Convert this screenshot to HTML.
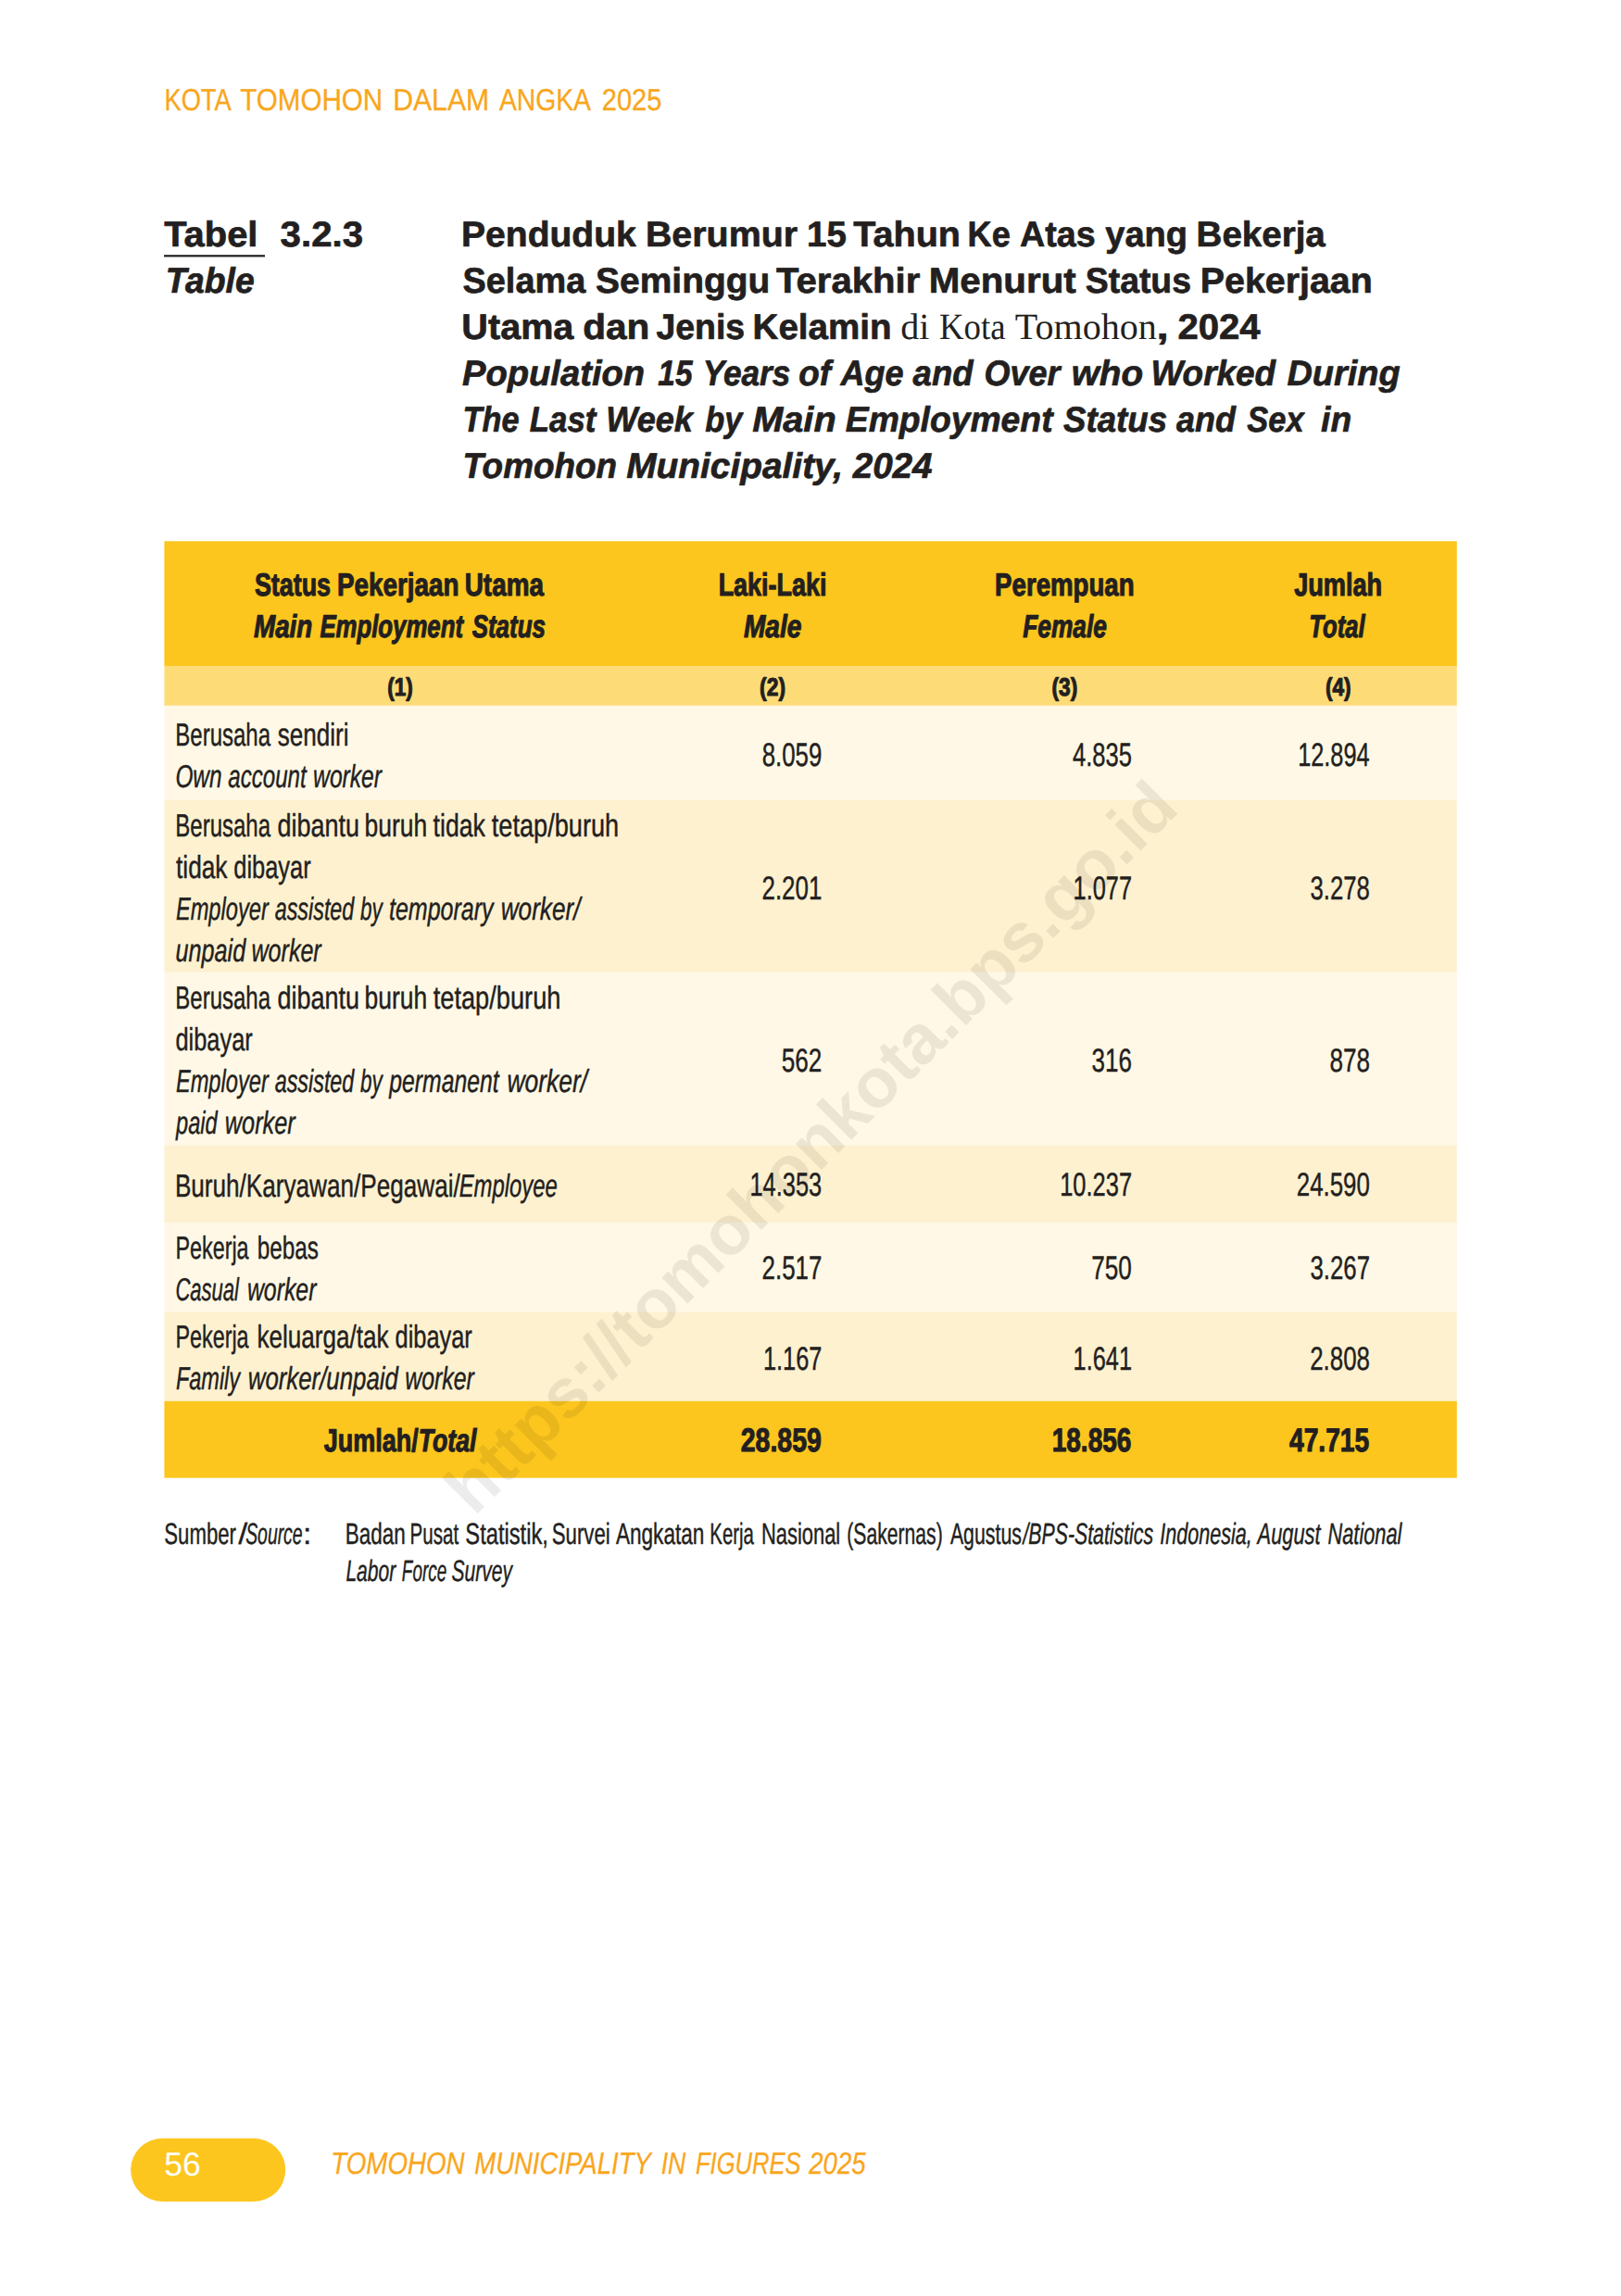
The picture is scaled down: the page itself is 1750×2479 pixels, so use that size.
<!DOCTYPE html>
<html lang="id">
<head>
<meta charset="utf-8">
<title>Kota Tomohon Dalam Angka 2025 - Tabel 3.2.3</title>
<style>
html,body{margin:0;padding:0;background:#fff;}
body{width:1750px;height:2479px;overflow:hidden;position:relative;}
svg{position:absolute;left:0;top:0;display:block;}
text{font-family:"Liberation Sans",Arial,sans-serif;white-space:pre;text-rendering:geometricPrecision;}
</style>
</head>
<body>
<svg width="1750" height="2479" viewBox="0 0 1750 2479">

<rect x="177.4" y="584.3" width="1395.4" height="134.7" fill="#fcc61e"/>
<rect x="177.4" y="719.0" width="1395.4" height="42.9" fill="#fddc78"/>
<rect x="177.4" y="761.9" width="1395.4" height="101.9" fill="#fff8e6"/>
<rect x="177.4" y="863.8" width="1395.4" height="186.0" fill="#fef1d0"/>
<rect x="177.4" y="1049.8" width="1395.4" height="187.1" fill="#fff8e6"/>
<rect x="177.4" y="1236.9" width="1395.4" height="83.2" fill="#fef1d0"/>
<rect x="177.4" y="1320.1" width="1395.4" height="96.4" fill="#fff8e6"/>
<rect x="177.4" y="1416.5" width="1395.4" height="96.3" fill="#fef1d0"/>
<rect x="177.4" y="1512.8" width="1395.4" height="82.9" fill="#fcc61e"/>
<rect x="177" y="275.2" width="109" height="2.2" fill="#231f20"/>
<rect x="141.1" y="2308.8" width="167.1" height="68.1" rx="34.05" ry="34.05" fill="#fcc61e"/>

<text x="177.47" y="118.80" font-size="33.00" textLength="72.23" lengthAdjust="spacingAndGlyphs" fill="#f9a61c" stroke="#f9a61c" stroke-width="0.3" stroke-linejoin="round">KOTA</text>
<text x="259.29" y="118.80" font-size="33.00" textLength="153.97" lengthAdjust="spacingAndGlyphs" fill="#f9a61c" stroke="#f9a61c" stroke-width="0.3" stroke-linejoin="round">TOMOHON</text>
<text x="424.17" y="118.80" font-size="33.00" textLength="104.05" lengthAdjust="spacingAndGlyphs" fill="#f9a61c" stroke="#f9a61c" stroke-width="0.3" stroke-linejoin="round">DALAM</text>
<text x="538.89" y="118.80" font-size="33.00" textLength="99.11" lengthAdjust="spacingAndGlyphs" fill="#f9a61c" stroke="#f9a61c" stroke-width="0.3" stroke-linejoin="round">ANGKA</text>
<text x="649.79" y="118.80" font-size="33.00" textLength="64.58" lengthAdjust="spacingAndGlyphs" fill="#f9a61c" stroke="#f9a61c" stroke-width="0.3" stroke-linejoin="round">2025</text>
<text x="177.18" y="2349.20" font-size="35.90" textLength="39.48" lengthAdjust="spacingAndGlyphs" fill="#ffffff">56</text>
<text x="357.27" y="2346.90" font-size="33.10" textLength="144.37" lengthAdjust="spacingAndGlyphs" fill="#f9a61c" stroke="#f9a61c" stroke-width="0.3" stroke-linejoin="round" font-style="italic">TOMOHON</text>
<text x="512.21" y="2346.90" font-size="33.10" textLength="190.60" lengthAdjust="spacingAndGlyphs" fill="#f9a61c" stroke="#f9a61c" stroke-width="0.3" stroke-linejoin="round" font-style="italic">MUNICIPALITY</text>
<text x="713.70" y="2346.90" font-size="33.10" textLength="26.64" lengthAdjust="spacingAndGlyphs" fill="#f9a61c" stroke="#f9a61c" stroke-width="0.3" stroke-linejoin="round" font-style="italic">IN</text>
<text x="750.96" y="2346.90" font-size="33.10" textLength="113.66" lengthAdjust="spacingAndGlyphs" fill="#f9a61c" stroke="#f9a61c" stroke-width="0.3" stroke-linejoin="round" font-style="italic">FIGURES</text>
<text x="873.31" y="2346.90" font-size="33.10" textLength="61.27" lengthAdjust="spacingAndGlyphs" fill="#f9a61c" stroke="#f9a61c" stroke-width="0.3" stroke-linejoin="round" font-style="italic">2025</text>
<text x="177.21" y="266.40" font-size="38.40" textLength="101.18" lengthAdjust="spacingAndGlyphs" fill="#231f20" stroke="#231f20" stroke-width="0.7" stroke-linejoin="round" font-weight="700">Tabel</text>
<text x="302.63" y="266.40" font-size="38.40" textLength="89.37" lengthAdjust="spacingAndGlyphs" fill="#231f20" stroke="#231f20" stroke-width="0.7" stroke-linejoin="round" font-weight="700">3.2.3</text>
<text x="178.75" y="316.20" font-size="38.40" textLength="95.92" lengthAdjust="spacingAndGlyphs" fill="#231f20" stroke="#231f20" stroke-width="0.7" stroke-linejoin="round" font-weight="700" font-style="italic">Table</text>
<text x="498.04" y="266.30" font-size="38.40" textLength="188.77" lengthAdjust="spacingAndGlyphs" fill="#231f20" stroke="#231f20" stroke-width="0.7" stroke-linejoin="round" font-weight="700">Penduduk</text>
<text x="696.92" y="266.30" font-size="38.40" textLength="164.13" lengthAdjust="spacingAndGlyphs" fill="#231f20" stroke="#231f20" stroke-width="0.7" stroke-linejoin="round" font-weight="700">Berumur</text>
<text x="871.03" y="266.30" font-size="38.40" textLength="42.79" lengthAdjust="spacingAndGlyphs" fill="#231f20" stroke="#231f20" stroke-width="0.7" stroke-linejoin="round" font-weight="700">15</text>
<text x="921.32" y="266.30" font-size="38.40" textLength="115.73" lengthAdjust="spacingAndGlyphs" fill="#231f20" stroke="#231f20" stroke-width="0.7" stroke-linejoin="round" font-weight="700">Tahun</text>
<text x="1044.53" y="266.30" font-size="38.40" textLength="46.26" lengthAdjust="spacingAndGlyphs" fill="#231f20" stroke="#231f20" stroke-width="0.7" stroke-linejoin="round" font-weight="700">Ke</text>
<text x="1101.01" y="266.30" font-size="38.40" textLength="81.68" lengthAdjust="spacingAndGlyphs" fill="#231f20" stroke="#231f20" stroke-width="0.7" stroke-linejoin="round" font-weight="700">Atas</text>
<text x="1193.25" y="266.30" font-size="38.40" textLength="88.74" lengthAdjust="spacingAndGlyphs" fill="#231f20" stroke="#231f20" stroke-width="0.7" stroke-linejoin="round" font-weight="700">yang</text>
<text x="1291.57" y="266.30" font-size="38.40" textLength="139.23" lengthAdjust="spacingAndGlyphs" fill="#231f20" stroke="#231f20" stroke-width="0.7" stroke-linejoin="round" font-weight="700">Bekerja</text>
<text x="499.56" y="316.30" font-size="38.40" textLength="132.65" lengthAdjust="spacingAndGlyphs" fill="#231f20" stroke="#231f20" stroke-width="0.7" stroke-linejoin="round" font-weight="700">Selama</text>
<text x="643.13" y="316.30" font-size="38.40" textLength="188.19" lengthAdjust="spacingAndGlyphs" fill="#231f20" stroke="#231f20" stroke-width="0.7" stroke-linejoin="round" font-weight="700">Seminggu</text>
<text x="838.01" y="316.30" font-size="38.40" textLength="155.24" lengthAdjust="spacingAndGlyphs" fill="#231f20" stroke="#231f20" stroke-width="0.7" stroke-linejoin="round" font-weight="700">Terakhir</text>
<text x="1002.65" y="316.30" font-size="38.40" textLength="159.09" lengthAdjust="spacingAndGlyphs" fill="#231f20" stroke="#231f20" stroke-width="0.7" stroke-linejoin="round" font-weight="700">Menurut</text>
<text x="1171.77" y="316.30" font-size="38.40" textLength="114.21" lengthAdjust="spacingAndGlyphs" fill="#231f20" stroke="#231f20" stroke-width="0.7" stroke-linejoin="round" font-weight="700">Status</text>
<text x="1295.82" y="316.30" font-size="38.40" textLength="185.97" lengthAdjust="spacingAndGlyphs" fill="#231f20" stroke="#231f20" stroke-width="0.7" stroke-linejoin="round" font-weight="700">Pekerjaan</text>
<text x="498.37" y="366.30" font-size="38.40" textLength="121.03" lengthAdjust="spacingAndGlyphs" fill="#231f20" stroke="#231f20" stroke-width="0.7" stroke-linejoin="round" font-weight="700">Utama</text>
<text x="629.18" y="366.30" font-size="38.40" textLength="72.18" lengthAdjust="spacingAndGlyphs" fill="#231f20" stroke="#231f20" stroke-width="0.7" stroke-linejoin="round" font-weight="700">dan</text>
<text x="708.48" y="366.30" font-size="38.40" textLength="95.70" lengthAdjust="spacingAndGlyphs" fill="#231f20" stroke="#231f20" stroke-width="0.7" stroke-linejoin="round" font-weight="700">Jenis</text>
<text x="812.57" y="366.30" font-size="38.40" textLength="149.87" lengthAdjust="spacingAndGlyphs" fill="#231f20" stroke="#231f20" stroke-width="0.7" stroke-linejoin="round" font-weight="700">Kelamin</text>
<text x="972.25" y="366.30" font-size="40.00" textLength="31.21" lengthAdjust="spacingAndGlyphs" fill="#231f20" style="font-family:&quot;Liberation Serif&quot;,serif">di</text>
<text x="1013.94" y="366.30" font-size="40.00" textLength="71.56" lengthAdjust="spacingAndGlyphs" fill="#231f20" style="font-family:&quot;Liberation Serif&quot;,serif">Kota</text>
<text x="1095.89" y="366.30" font-size="40.00" textLength="152.91" lengthAdjust="spacingAndGlyphs" fill="#231f20" style="font-family:&quot;Liberation Serif&quot;,serif">Tomohon</text>
<text x="1248.62" y="366.30" font-size="38.40" textLength="13.21" lengthAdjust="spacingAndGlyphs" fill="#231f20" stroke="#231f20" stroke-width="0.7" stroke-linejoin="round" font-weight="700">,</text>
<text x="1271.46" y="366.30" font-size="38.40" textLength="89.21" lengthAdjust="spacingAndGlyphs" fill="#231f20" stroke="#231f20" stroke-width="0.7" stroke-linejoin="round" font-weight="700">2024</text>
<text x="498.98" y="416.30" font-size="38.40" textLength="197.17" lengthAdjust="spacingAndGlyphs" fill="#231f20" stroke="#231f20" stroke-width="0.7" stroke-linejoin="round" font-weight="700" font-style="italic">Population</text>
<text x="710.31" y="416.30" font-size="38.40" textLength="37.25" lengthAdjust="spacingAndGlyphs" fill="#231f20" stroke="#231f20" stroke-width="0.7" stroke-linejoin="round" font-weight="700" font-style="italic">15</text>
<text x="758.73" y="416.30" font-size="38.40" textLength="94.71" lengthAdjust="spacingAndGlyphs" fill="#231f20" stroke="#231f20" stroke-width="0.7" stroke-linejoin="round" font-weight="700" font-style="italic">Years</text>
<text x="862.32" y="416.30" font-size="38.40" textLength="34.76" lengthAdjust="spacingAndGlyphs" fill="#231f20" stroke="#231f20" stroke-width="0.7" stroke-linejoin="round" font-weight="700" font-style="italic">of</text>
<text x="907.59" y="416.30" font-size="38.40" textLength="68.06" lengthAdjust="spacingAndGlyphs" fill="#231f20" stroke="#231f20" stroke-width="0.7" stroke-linejoin="round" font-weight="700" font-style="italic">Age</text>
<text x="985.57" y="416.30" font-size="38.40" textLength="65.05" lengthAdjust="spacingAndGlyphs" fill="#231f20" stroke="#231f20" stroke-width="0.7" stroke-linejoin="round" font-weight="700" font-style="italic">and</text>
<text x="1062.59" y="416.30" font-size="38.40" textLength="82.02" lengthAdjust="spacingAndGlyphs" fill="#231f20" stroke="#231f20" stroke-width="0.7" stroke-linejoin="round" font-weight="700" font-style="italic">Over</text>
<text x="1156.68" y="416.30" font-size="38.40" textLength="77.42" lengthAdjust="spacingAndGlyphs" fill="#231f20" stroke="#231f20" stroke-width="0.7" stroke-linejoin="round" font-weight="700" font-style="italic">who</text>
<text x="1242.46" y="416.30" font-size="38.40" textLength="134.66" lengthAdjust="spacingAndGlyphs" fill="#231f20" stroke="#231f20" stroke-width="0.7" stroke-linejoin="round" font-weight="700" font-style="italic">Worked</text>
<text x="1389.38" y="416.30" font-size="38.40" textLength="122.22" lengthAdjust="spacingAndGlyphs" fill="#231f20" stroke="#231f20" stroke-width="0.7" stroke-linejoin="round" font-weight="700" font-style="italic">During</text>
<text x="499.62" y="466.30" font-size="38.40" textLength="60.98" lengthAdjust="spacingAndGlyphs" fill="#231f20" stroke="#231f20" stroke-width="0.7" stroke-linejoin="round" font-weight="700" font-style="italic">The</text>
<text x="571.74" y="466.30" font-size="38.40" textLength="71.72" lengthAdjust="spacingAndGlyphs" fill="#231f20" stroke="#231f20" stroke-width="0.7" stroke-linejoin="round" font-weight="700" font-style="italic">Last</text>
<text x="654.32" y="466.30" font-size="38.40" textLength="93.64" lengthAdjust="spacingAndGlyphs" fill="#231f20" stroke="#231f20" stroke-width="0.7" stroke-linejoin="round" font-weight="700" font-style="italic">Week</text>
<text x="761.26" y="466.30" font-size="38.40" textLength="40.06" lengthAdjust="spacingAndGlyphs" fill="#231f20" stroke="#231f20" stroke-width="0.7" stroke-linejoin="round" font-weight="700" font-style="italic">by</text>
<text x="812.15" y="466.30" font-size="38.40" textLength="90.57" lengthAdjust="spacingAndGlyphs" fill="#231f20" stroke="#231f20" stroke-width="0.7" stroke-linejoin="round" font-weight="700" font-style="italic">Main</text>
<text x="912.79" y="466.30" font-size="38.40" textLength="223.78" lengthAdjust="spacingAndGlyphs" fill="#231f20" stroke="#231f20" stroke-width="0.7" stroke-linejoin="round" font-weight="700" font-style="italic">Employment</text>
<text x="1148.10" y="466.30" font-size="38.40" textLength="112.00" lengthAdjust="spacingAndGlyphs" fill="#231f20" stroke="#231f20" stroke-width="0.7" stroke-linejoin="round" font-weight="700" font-style="italic">Status</text>
<text x="1270.07" y="466.30" font-size="38.40" textLength="63.96" lengthAdjust="spacingAndGlyphs" fill="#231f20" stroke="#231f20" stroke-width="0.7" stroke-linejoin="round" font-weight="700" font-style="italic">and</text>
<text x="1346.33" y="466.30" font-size="38.40" textLength="61.26" lengthAdjust="spacingAndGlyphs" fill="#231f20" stroke="#231f20" stroke-width="0.7" stroke-linejoin="round" font-weight="700" font-style="italic">Sex</text>
<text x="1426.11" y="466.30" font-size="38.40" textLength="33.10" lengthAdjust="spacingAndGlyphs" fill="#231f20" stroke="#231f20" stroke-width="0.7" stroke-linejoin="round" font-weight="700" font-style="italic">in</text>
<text x="499.46" y="516.30" font-size="38.40" textLength="166.63" lengthAdjust="spacingAndGlyphs" fill="#231f20" stroke="#231f20" stroke-width="0.7" stroke-linejoin="round" font-weight="700" font-style="italic">Tomohon</text>
<text x="676.17" y="516.30" font-size="38.40" textLength="233.88" lengthAdjust="spacingAndGlyphs" fill="#231f20" stroke="#231f20" stroke-width="0.7" stroke-linejoin="round" font-weight="700" font-style="italic">Municipality,</text>
<text x="920.65" y="516.30" font-size="38.40" textLength="85.96" lengthAdjust="spacingAndGlyphs" fill="#231f20" stroke="#231f20" stroke-width="0.7" stroke-linejoin="round" font-weight="700" font-style="italic">2024</text>
<text x="274.88" y="642.50" font-size="34.40" textLength="82.18" lengthAdjust="spacingAndGlyphs" fill="#231f20" stroke="#231f20" stroke-width="1.1" stroke-linejoin="round" font-weight="700">Status</text>
<text x="363.89" y="642.50" font-size="34.40" textLength="131.59" lengthAdjust="spacingAndGlyphs" fill="#231f20" stroke="#231f20" stroke-width="1.1" stroke-linejoin="round" font-weight="700">Pekerjaan</text>
<text x="501.78" y="642.50" font-size="34.40" textLength="85.10" lengthAdjust="spacingAndGlyphs" fill="#231f20" stroke="#231f20" stroke-width="1.1" stroke-linejoin="round" font-weight="700">Utama</text>
<text x="274.06" y="687.50" font-size="34.40" textLength="63.25" lengthAdjust="spacingAndGlyphs" fill="#231f20" stroke="#231f20" stroke-width="1.1" stroke-linejoin="round" font-weight="700" font-style="italic">Main</text>
<text x="345.40" y="687.50" font-size="34.40" textLength="154.57" lengthAdjust="spacingAndGlyphs" fill="#231f20" stroke="#231f20" stroke-width="1.1" stroke-linejoin="round" font-weight="700" font-style="italic">Employment</text>
<text x="509.63" y="687.50" font-size="34.40" textLength="79.41" lengthAdjust="spacingAndGlyphs" fill="#231f20" stroke="#231f20" stroke-width="1.1" stroke-linejoin="round" font-weight="700" font-style="italic">Status</text>
<text x="775.65" y="642.50" font-size="34.40" textLength="116.91" lengthAdjust="spacingAndGlyphs" fill="#231f20" stroke="#231f20" stroke-width="1.1" stroke-linejoin="round" font-weight="700">Laki-Laki</text>
<text x="802.96" y="687.50" font-size="34.40" textLength="62.37" lengthAdjust="spacingAndGlyphs" fill="#231f20" stroke="#231f20" stroke-width="1.1" stroke-linejoin="round" font-weight="700" font-style="italic">Male</text>
<text x="1074.10" y="642.50" font-size="34.40" textLength="150.46" lengthAdjust="spacingAndGlyphs" fill="#231f20" stroke="#231f20" stroke-width="1.1" stroke-linejoin="round" font-weight="700">Perempuan</text>
<text x="1104.19" y="687.50" font-size="34.40" textLength="90.70" lengthAdjust="spacingAndGlyphs" fill="#231f20" stroke="#231f20" stroke-width="1.1" stroke-linejoin="round" font-weight="700" font-style="italic">Female</text>
<text x="1397.14" y="642.50" font-size="34.40" textLength="94.99" lengthAdjust="spacingAndGlyphs" fill="#231f20" stroke="#231f20" stroke-width="1.1" stroke-linejoin="round" font-weight="700">Jumlah</text>
<text x="1413.36" y="687.50" font-size="34.40" textLength="60.25" lengthAdjust="spacingAndGlyphs" fill="#231f20" stroke="#231f20" stroke-width="1.1" stroke-linejoin="round" font-weight="700" font-style="italic">Total</text>
<text x="418.13" y="751.40" font-size="27.20" textLength="27.54" lengthAdjust="spacingAndGlyphs" fill="#231f20" stroke="#231f20" stroke-width="1.1" stroke-linejoin="round" font-weight="700">(1)</text>
<text x="820.11" y="751.40" font-size="27.20" textLength="27.87" lengthAdjust="spacingAndGlyphs" fill="#231f20" stroke="#231f20" stroke-width="1.1" stroke-linejoin="round" font-weight="700">(2)</text>
<text x="1135.52" y="751.40" font-size="27.20" textLength="27.76" lengthAdjust="spacingAndGlyphs" fill="#231f20" stroke="#231f20" stroke-width="1.1" stroke-linejoin="round" font-weight="700">(3)</text>
<text x="1430.92" y="751.40" font-size="27.20" textLength="27.65" lengthAdjust="spacingAndGlyphs" fill="#231f20" stroke="#231f20" stroke-width="1.1" stroke-linejoin="round" font-weight="700">(4)</text>
<text x="189.25" y="804.70" font-size="34.40" textLength="102.82" lengthAdjust="spacingAndGlyphs" fill="#231f20" stroke="#231f20" stroke-width="0.45" stroke-linejoin="round">Berusaha</text>
<text x="299.70" y="804.70" font-size="34.40" textLength="76.73" lengthAdjust="spacingAndGlyphs" fill="#231f20" stroke="#231f20" stroke-width="0.45" stroke-linejoin="round">sendiri</text>
<text x="189.41" y="849.70" font-size="34.40" textLength="50.08" lengthAdjust="spacingAndGlyphs" fill="#231f20" stroke="#231f20" stroke-width="0.45" stroke-linejoin="round" font-style="italic">Own</text>
<text x="246.28" y="849.70" font-size="34.40" textLength="84.36" lengthAdjust="spacingAndGlyphs" fill="#231f20" stroke="#231f20" stroke-width="0.45" stroke-linejoin="round" font-style="italic">account</text>
<text x="338.10" y="849.70" font-size="34.40" textLength="73.95" lengthAdjust="spacingAndGlyphs" fill="#231f20" stroke="#231f20" stroke-width="0.45" stroke-linejoin="round" font-style="italic">worker</text>
<text x="189.25" y="903.20" font-size="34.40" textLength="102.82" lengthAdjust="spacingAndGlyphs" fill="#231f20" stroke="#231f20" stroke-width="0.45" stroke-linejoin="round">Berusaha</text>
<text x="299.39" y="903.20" font-size="34.40" textLength="88.58" lengthAdjust="spacingAndGlyphs" fill="#231f20" stroke="#231f20" stroke-width="0.45" stroke-linejoin="round">dibantu</text>
<text x="393.52" y="903.20" font-size="34.40" textLength="67.67" lengthAdjust="spacingAndGlyphs" fill="#231f20" stroke="#231f20" stroke-width="0.45" stroke-linejoin="round">buruh</text>
<text x="467.62" y="903.20" font-size="34.40" textLength="56.21" lengthAdjust="spacingAndGlyphs" fill="#231f20" stroke="#231f20" stroke-width="0.45" stroke-linejoin="round">tidak</text>
<text x="530.81" y="903.20" font-size="34.40" textLength="137.43" lengthAdjust="spacingAndGlyphs" fill="#231f20" stroke="#231f20" stroke-width="0.45" stroke-linejoin="round">tetap/buruh</text>
<text x="190.03" y="948.20" font-size="34.40" textLength="55.41" lengthAdjust="spacingAndGlyphs" fill="#231f20" stroke="#231f20" stroke-width="0.45" stroke-linejoin="round">tidak</text>
<text x="252.26" y="948.20" font-size="34.40" textLength="83.44" lengthAdjust="spacingAndGlyphs" fill="#231f20" stroke="#231f20" stroke-width="0.45" stroke-linejoin="round">dibayar</text>
<text x="189.90" y="993.20" font-size="34.40" textLength="99.88" lengthAdjust="spacingAndGlyphs" fill="#231f20" stroke="#231f20" stroke-width="0.45" stroke-linejoin="round" font-style="italic">Employer</text>
<text x="296.70" y="993.20" font-size="34.40" textLength="85.66" lengthAdjust="spacingAndGlyphs" fill="#231f20" stroke="#231f20" stroke-width="0.45" stroke-linejoin="round" font-style="italic">assisted</text>
<text x="389.11" y="993.20" font-size="34.40" textLength="23.74" lengthAdjust="spacingAndGlyphs" fill="#231f20" stroke="#231f20" stroke-width="0.45" stroke-linejoin="round" font-style="italic">by</text>
<text x="419.99" y="993.20" font-size="34.40" textLength="112.63" lengthAdjust="spacingAndGlyphs" fill="#231f20" stroke="#231f20" stroke-width="0.45" stroke-linejoin="round" font-style="italic">temporary</text>
<text x="540.72" y="993.20" font-size="34.40" textLength="85.71" lengthAdjust="spacingAndGlyphs" fill="#231f20" stroke="#231f20" stroke-width="0.45" stroke-linejoin="round" font-style="italic">worker/</text>
<text x="189.57" y="1038.20" font-size="34.40" textLength="75.64" lengthAdjust="spacingAndGlyphs" fill="#231f20" stroke="#231f20" stroke-width="0.45" stroke-linejoin="round" font-style="italic">unpaid</text>
<text x="271.48" y="1038.20" font-size="34.40" textLength="75.25" lengthAdjust="spacingAndGlyphs" fill="#231f20" stroke="#231f20" stroke-width="0.45" stroke-linejoin="round" font-style="italic">worker</text>
<text x="189.25" y="1089.00" font-size="34.40" textLength="102.82" lengthAdjust="spacingAndGlyphs" fill="#231f20" stroke="#231f20" stroke-width="0.45" stroke-linejoin="round">Berusaha</text>
<text x="299.39" y="1089.00" font-size="34.40" textLength="88.58" lengthAdjust="spacingAndGlyphs" fill="#231f20" stroke="#231f20" stroke-width="0.45" stroke-linejoin="round">dibantu</text>
<text x="393.52" y="1089.00" font-size="34.40" textLength="67.67" lengthAdjust="spacingAndGlyphs" fill="#231f20" stroke="#231f20" stroke-width="0.45" stroke-linejoin="round">buruh</text>
<text x="467.71" y="1089.00" font-size="34.40" textLength="137.73" lengthAdjust="spacingAndGlyphs" fill="#231f20" stroke="#231f20" stroke-width="0.45" stroke-linejoin="round">tetap/buruh</text>
<text x="189.46" y="1134.00" font-size="34.40" textLength="83.24" lengthAdjust="spacingAndGlyphs" fill="#231f20" stroke="#231f20" stroke-width="0.45" stroke-linejoin="round">dibayar</text>
<text x="189.90" y="1179.00" font-size="34.40" textLength="99.88" lengthAdjust="spacingAndGlyphs" fill="#231f20" stroke="#231f20" stroke-width="0.45" stroke-linejoin="round" font-style="italic">Employer</text>
<text x="296.70" y="1179.00" font-size="34.40" textLength="85.66" lengthAdjust="spacingAndGlyphs" fill="#231f20" stroke="#231f20" stroke-width="0.45" stroke-linejoin="round" font-style="italic">assisted</text>
<text x="389.11" y="1179.00" font-size="34.40" textLength="23.74" lengthAdjust="spacingAndGlyphs" fill="#231f20" stroke="#231f20" stroke-width="0.45" stroke-linejoin="round" font-style="italic">by</text>
<text x="420.34" y="1179.00" font-size="34.40" textLength="118.18" lengthAdjust="spacingAndGlyphs" fill="#231f20" stroke="#231f20" stroke-width="0.45" stroke-linejoin="round" font-style="italic">permanent</text>
<text x="547.41" y="1179.00" font-size="34.40" textLength="86.69" lengthAdjust="spacingAndGlyphs" fill="#231f20" stroke="#231f20" stroke-width="0.45" stroke-linejoin="round" font-style="italic">worker/</text>
<text x="190.01" y="1224.00" font-size="34.40" textLength="44.64" lengthAdjust="spacingAndGlyphs" fill="#231f20" stroke="#231f20" stroke-width="0.45" stroke-linejoin="round" font-style="italic">paid</text>
<text x="242.87" y="1224.00" font-size="34.40" textLength="75.76" lengthAdjust="spacingAndGlyphs" fill="#231f20" stroke="#231f20" stroke-width="0.45" stroke-linejoin="round" font-style="italic">worker</text>
<text x="188.88" y="1292.00" font-size="34.40" textLength="307.89" lengthAdjust="spacingAndGlyphs" fill="#231f20" stroke="#231f20" stroke-width="0.45" stroke-linejoin="round">Buruh/Karyawan/Pegawai/</text>
<text x="495.69" y="1292.00" font-size="34.40" textLength="106.17" lengthAdjust="spacingAndGlyphs" fill="#231f20" stroke="#231f20" stroke-width="0.45" stroke-linejoin="round" font-style="italic">Employee</text>
<text x="189.41" y="1358.90" font-size="34.40" textLength="79.17" lengthAdjust="spacingAndGlyphs" fill="#231f20" stroke="#231f20" stroke-width="0.45" stroke-linejoin="round">Pekerja</text>
<text x="277.66" y="1358.90" font-size="34.40" textLength="66.19" lengthAdjust="spacingAndGlyphs" fill="#231f20" stroke="#231f20" stroke-width="0.45" stroke-linejoin="round">bebas</text>
<text x="189.41" y="1404.10" font-size="34.40" textLength="68.57" lengthAdjust="spacingAndGlyphs" fill="#231f20" stroke="#231f20" stroke-width="0.45" stroke-linejoin="round" font-style="italic">Casual</text>
<text x="266.89" y="1404.10" font-size="34.40" textLength="74.55" lengthAdjust="spacingAndGlyphs" fill="#231f20" stroke="#231f20" stroke-width="0.45" stroke-linejoin="round" font-style="italic">worker</text>
<text x="189.41" y="1455.00" font-size="34.40" textLength="79.17" lengthAdjust="spacingAndGlyphs" fill="#231f20" stroke="#231f20" stroke-width="0.45" stroke-linejoin="round">Pekerja</text>
<text x="277.47" y="1455.00" font-size="34.40" textLength="141.97" lengthAdjust="spacingAndGlyphs" fill="#231f20" stroke="#231f20" stroke-width="0.45" stroke-linejoin="round">keluarga/tak</text>
<text x="426.56" y="1455.00" font-size="34.40" textLength="83.24" lengthAdjust="spacingAndGlyphs" fill="#231f20" stroke="#231f20" stroke-width="0.45" stroke-linejoin="round">dibayar</text>
<text x="189.90" y="1500.20" font-size="34.40" textLength="69.19" lengthAdjust="spacingAndGlyphs" fill="#231f20" stroke="#231f20" stroke-width="0.45" stroke-linejoin="round" font-style="italic">Family</text>
<text x="267.74" y="1500.20" font-size="34.40" textLength="162.16" lengthAdjust="spacingAndGlyphs" fill="#231f20" stroke="#231f20" stroke-width="0.45" stroke-linejoin="round" font-style="italic">worker/unpaid</text>
<text x="437.19" y="1500.20" font-size="34.40" textLength="74.65" lengthAdjust="spacingAndGlyphs" fill="#231f20" stroke="#231f20" stroke-width="0.45" stroke-linejoin="round" font-style="italic">worker</text>
<text x="349.64" y="1566.80" font-size="34.40" textLength="102.07" lengthAdjust="spacingAndGlyphs" fill="#231f20" stroke="#231f20" stroke-width="1.1" stroke-linejoin="round" font-weight="700">Jumlah/</text>
<text x="451.69" y="1566.80" font-size="34.40" textLength="62.81" lengthAdjust="spacingAndGlyphs" fill="#231f20" stroke="#231f20" stroke-width="1.1" stroke-linejoin="round" font-weight="700" font-style="italic">Total</text>
<text x="822.70" y="826.50" font-size="35.60" textLength="64.59" lengthAdjust="spacingAndGlyphs" fill="#231f20" stroke="#231f20" stroke-width="0.45" stroke-linejoin="round">8.059</text>
<text x="1157.94" y="826.50" font-size="35.60" textLength="63.91" lengthAdjust="spacingAndGlyphs" fill="#231f20" stroke="#231f20" stroke-width="0.45" stroke-linejoin="round">4.835</text>
<text x="1401.20" y="826.50" font-size="35.60" textLength="77.32" lengthAdjust="spacingAndGlyphs" fill="#231f20" stroke="#231f20" stroke-width="0.45" stroke-linejoin="round">12.894</text>
<text x="822.52" y="970.50" font-size="35.60" textLength="64.82" lengthAdjust="spacingAndGlyphs" fill="#231f20" stroke="#231f20" stroke-width="0.45" stroke-linejoin="round">2.201</text>
<text x="1158.59" y="970.50" font-size="35.60" textLength="63.46" lengthAdjust="spacingAndGlyphs" fill="#231f20" stroke="#231f20" stroke-width="0.45" stroke-linejoin="round">1.077</text>
<text x="1414.55" y="970.50" font-size="35.60" textLength="64.35" lengthAdjust="spacingAndGlyphs" fill="#231f20" stroke="#231f20" stroke-width="0.45" stroke-linejoin="round">3.278</text>
<text x="843.78" y="1156.90" font-size="35.60" textLength="43.61" lengthAdjust="spacingAndGlyphs" fill="#231f20" stroke="#231f20" stroke-width="0.45" stroke-linejoin="round">562</text>
<text x="1178.53" y="1156.90" font-size="35.60" textLength="43.38" lengthAdjust="spacingAndGlyphs" fill="#231f20" stroke="#231f20" stroke-width="0.45" stroke-linejoin="round">316</text>
<text x="1435.39" y="1156.90" font-size="35.60" textLength="43.52" lengthAdjust="spacingAndGlyphs" fill="#231f20" stroke="#231f20" stroke-width="0.45" stroke-linejoin="round">878</text>
<text x="809.49" y="1291.40" font-size="35.60" textLength="77.70" lengthAdjust="spacingAndGlyphs" fill="#231f20" stroke="#231f20" stroke-width="0.45" stroke-linejoin="round">14.353</text>
<text x="1144.19" y="1291.40" font-size="35.60" textLength="77.87" lengthAdjust="spacingAndGlyphs" fill="#231f20" stroke="#231f20" stroke-width="0.45" stroke-linejoin="round">10.237</text>
<text x="1399.83" y="1291.40" font-size="35.60" textLength="78.96" lengthAdjust="spacingAndGlyphs" fill="#231f20" stroke="#231f20" stroke-width="0.45" stroke-linejoin="round">24.590</text>
<text x="822.52" y="1381.20" font-size="35.60" textLength="64.86" lengthAdjust="spacingAndGlyphs" fill="#231f20" stroke="#231f20" stroke-width="0.45" stroke-linejoin="round">2.517</text>
<text x="1178.18" y="1381.20" font-size="35.60" textLength="43.61" lengthAdjust="spacingAndGlyphs" fill="#231f20" stroke="#231f20" stroke-width="0.45" stroke-linejoin="round">750</text>
<text x="1414.54" y="1381.20" font-size="35.60" textLength="64.53" lengthAdjust="spacingAndGlyphs" fill="#231f20" stroke="#231f20" stroke-width="0.45" stroke-linejoin="round">3.267</text>
<text x="823.89" y="1478.70" font-size="35.60" textLength="63.46" lengthAdjust="spacingAndGlyphs" fill="#231f20" stroke="#231f20" stroke-width="0.45" stroke-linejoin="round">1.167</text>
<text x="1158.59" y="1478.70" font-size="35.60" textLength="63.42" lengthAdjust="spacingAndGlyphs" fill="#231f20" stroke="#231f20" stroke-width="0.45" stroke-linejoin="round">1.641</text>
<text x="1414.23" y="1478.70" font-size="35.60" textLength="64.67" lengthAdjust="spacingAndGlyphs" fill="#231f20" stroke="#231f20" stroke-width="0.45" stroke-linejoin="round">2.808</text>
<text x="799.76" y="1566.50" font-size="35.60" textLength="87.04" lengthAdjust="spacingAndGlyphs" fill="#231f20" stroke="#231f20" stroke-width="1.1" stroke-linejoin="round" font-weight="700">28.859</text>
<text x="1135.68" y="1566.50" font-size="35.60" textLength="85.78" lengthAdjust="spacingAndGlyphs" fill="#231f20" stroke="#231f20" stroke-width="1.1" stroke-linejoin="round" font-weight="700">18.856</text>
<text x="1392.02" y="1566.50" font-size="35.60" textLength="86.21" lengthAdjust="spacingAndGlyphs" fill="#231f20" stroke="#231f20" stroke-width="1.1" stroke-linejoin="round" font-weight="700">47.715</text>
<text x="177.32" y="1666.80" font-size="32.20" textLength="77.62" lengthAdjust="spacingAndGlyphs" fill="#231f20" stroke="#231f20" stroke-width="0.45" stroke-linejoin="round">Sumber</text>
<text x="257.15" y="1666.80" font-size="32.20" textLength="10.10" lengthAdjust="spacingAndGlyphs" fill="#231f20" stroke="#231f20" stroke-width="0.3" stroke-linejoin="round">/</text>
<text x="265.18" y="1666.80" font-size="32.20" textLength="61.42" lengthAdjust="spacingAndGlyphs" fill="#231f20" stroke="#231f20" stroke-width="0.45" stroke-linejoin="round" font-style="italic">Source</text>
<text x="326.93" y="1666.80" font-size="32.20" textLength="9.34" lengthAdjust="spacingAndGlyphs" fill="#231f20" stroke="#231f20" stroke-width="0.4" stroke-linejoin="round">:</text>
<text x="372.78" y="1666.80" font-size="32.20" textLength="65.06" lengthAdjust="spacingAndGlyphs" fill="#231f20" stroke="#231f20" stroke-width="0.45" stroke-linejoin="round">Badan</text>
<text x="442.53" y="1666.80" font-size="32.20" textLength="52.69" lengthAdjust="spacingAndGlyphs" fill="#231f20" stroke="#231f20" stroke-width="0.45" stroke-linejoin="round">Pusat</text>
<text x="502.35" y="1666.80" font-size="32.20" textLength="89.56" lengthAdjust="spacingAndGlyphs" fill="#231f20" stroke="#231f20" stroke-width="0.45" stroke-linejoin="round">Statistik,</text>
<text x="595.72" y="1666.80" font-size="32.20" textLength="62.96" lengthAdjust="spacingAndGlyphs" fill="#231f20" stroke="#231f20" stroke-width="0.45" stroke-linejoin="round">Survei</text>
<text x="664.98" y="1666.80" font-size="32.20" textLength="95.36" lengthAdjust="spacingAndGlyphs" fill="#231f20" stroke="#231f20" stroke-width="0.45" stroke-linejoin="round">Angkatan</text>
<text x="766.35" y="1666.80" font-size="32.20" textLength="47.62" lengthAdjust="spacingAndGlyphs" fill="#231f20" stroke="#231f20" stroke-width="0.45" stroke-linejoin="round">Kerja</text>
<text x="822.03" y="1666.80" font-size="32.20" textLength="85.21" lengthAdjust="spacingAndGlyphs" fill="#231f20" stroke="#231f20" stroke-width="0.45" stroke-linejoin="round">Nasional</text>
<text x="914.31" y="1666.80" font-size="32.20" textLength="103.37" lengthAdjust="spacingAndGlyphs" fill="#231f20" stroke="#231f20" stroke-width="0.45" stroke-linejoin="round">(Sakernas)</text>
<text x="1025.88" y="1666.80" font-size="32.20" textLength="77.06" lengthAdjust="spacingAndGlyphs" fill="#231f20" stroke="#231f20" stroke-width="0.45" stroke-linejoin="round">Agustus</text>
<text x="1104.43" y="1666.80" font-size="32.20" textLength="140.68" lengthAdjust="spacingAndGlyphs" fill="#231f20" stroke="#231f20" stroke-width="0.45" stroke-linejoin="round" font-style="italic">/BPS-Statistics</text>
<text x="1252.17" y="1666.80" font-size="32.20" textLength="99.72" lengthAdjust="spacingAndGlyphs" fill="#231f20" stroke="#231f20" stroke-width="0.45" stroke-linejoin="round" font-style="italic">Indonesia,</text>
<text x="1357.60" y="1666.80" font-size="32.20" textLength="68.02" lengthAdjust="spacingAndGlyphs" fill="#231f20" stroke="#231f20" stroke-width="0.45" stroke-linejoin="round" font-style="italic">August</text>
<text x="1433.56" y="1666.80" font-size="32.20" textLength="79.83" lengthAdjust="spacingAndGlyphs" fill="#231f20" stroke="#231f20" stroke-width="0.45" stroke-linejoin="round" font-style="italic">National</text>
<text x="373.38" y="1706.90" font-size="32.20" textLength="53.79" lengthAdjust="spacingAndGlyphs" fill="#231f20" stroke="#231f20" stroke-width="0.45" stroke-linejoin="round" font-style="italic">Labor</text>
<text x="433.84" y="1706.90" font-size="32.20" textLength="48.33" lengthAdjust="spacingAndGlyphs" fill="#231f20" stroke="#231f20" stroke-width="0.45" stroke-linejoin="round" font-style="italic">Force</text>
<text x="487.43" y="1706.90" font-size="32.20" textLength="65.59" lengthAdjust="spacingAndGlyphs" fill="#231f20" stroke="#231f20" stroke-width="0.45" stroke-linejoin="round" font-style="italic">Survey</text>
<text transform="translate(512 1638) rotate(-45)" x="0" y="0" font-size="75" font-weight="700" fill="#000" fill-opacity="0.075">https://tomohonkota.bps.go.id</text>
</svg>
</body>
</html>
